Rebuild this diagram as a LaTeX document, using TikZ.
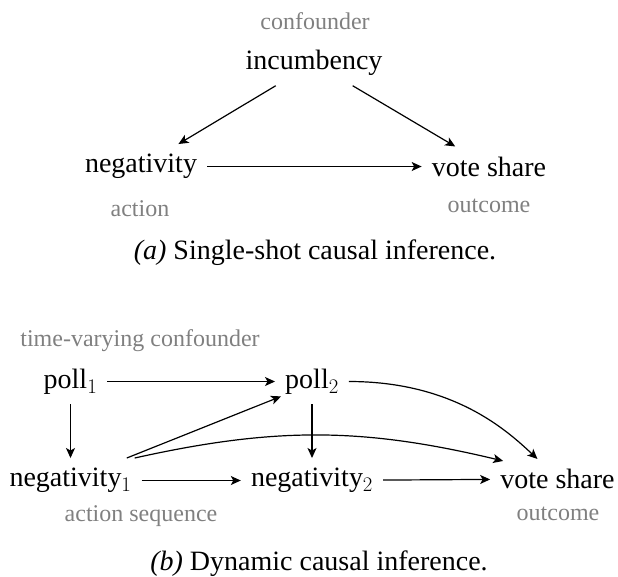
\documentclass[tikz,border=0pt]{standalone}
\usepackage{fontspec}
\setmainfont{Liberation Serif}
\usepackage{tikz}
\usetikzlibrary{arrows.meta}

\begin{document}
\begin{tikzpicture}[
x=1pt, y=-1pt,
var/.style={
    inner xsep=10pt, inner ysep=10pt,
    font=\fontsize{28}{32}\selectfont
},
role/.style={
    inner sep=0pt, text=black!50,
    font=\fontsize{24}{28}\selectfont
},
subcap/.style={inner sep=0pt, anchor=base, font=\fontsize{28}{32}\selectfont},
arrow/.style={-{Stealth[length=10pt, width=9pt, inset=2.5pt]}, line width=1.2pt}
]
\useasboundingbox (0,0) rectangle (618,576);

\node (incumb) [var] at (314,62.8) {incumbency};
\node (neg) [var] at (141,166.5) {negativity};
\node (vote) [var] at (489,166.5) {vote share};

\node (conf) [role] at (315,21.2) {confounder};
\node (act) [role] at (140,208.9) {action};
\node (out) [role] at (489,205.9) {outcome};

\node (capa) [subcap] at (315,259.3) {\textit{(a)} Single-shot causal inference.};

\draw[arrow] (incumb) -- (neg);
\draw[arrow] (incumb) -- (vote);
\draw[arrow] (neg) -- (vote);

\node (poll1) [var] at (70.5,381.5) {poll$_1$};
\node (poll2) [var] at (312,381.5) {poll$_2$};
\node (neg1) [var] at (70.5,480.5) {negativity$_1$};
\node (neg2) [var] at (312,480.5) {negativity$_2$};
\node (vote2) [var] at (557.5,479) {vote share};

\node (tvconf) [role] at (140,340.6) {time-varying confounder};
\node (actseq) [role] at (141,516.5) {action sequence};
\node (out2) [role] at (558,514.1) {outcome};

\node (capb) [subcap] at (319,570) {\textit{(b)} Dynamic causal inference.};

\draw[arrow] (poll1) -- (poll2);
\draw[arrow] (poll1) -- (neg1);
\draw[arrow] (poll2) -- (neg2);
\draw[arrow] (neg1) -- (neg2);
\draw[arrow] (neg2) -- (vote2);

\draw[arrow] (neg1) -- ([xshift=6pt,yshift=8pt]poll2.south west);
\draw[arrow] ([xshift=-7pt]neg1.north east) to[bend left=13] ([xshift=13pt,yshift=-2pt]vote2.north west);
\draw[arrow] (poll2.east) .. controls +(105,0) and +(-30,-28) .. (vote2.135);

\end{tikzpicture}
\end{document}
